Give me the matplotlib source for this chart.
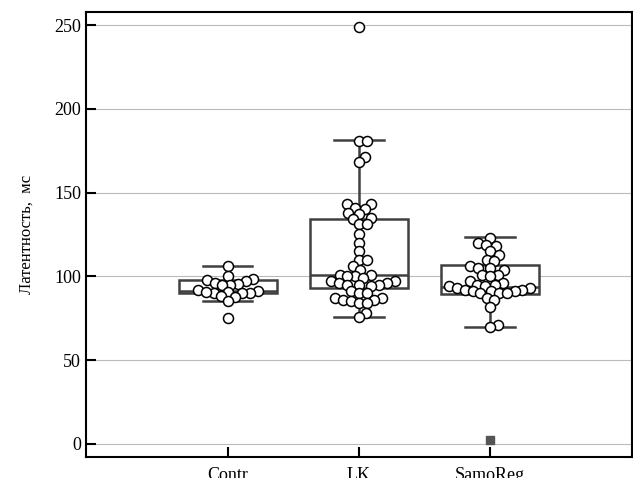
import numpy as np
import matplotlib
matplotlib.use("Agg")
import matplotlib.pyplot as plt

groups = ["Contr", "LK", "SamoReg"]

contr = [106, 100, 98.5, 98, 97.5, 96, 95.5, 95, 95, 92, 91, 90.5, 90, 90,
         90, 90.5, 88, 87.5, 85.5, 75]
lk = [249, 181, 181, 171, 168, 143, 143, 141, 140, 138, 137, 135, 134, 131,
      131, 125, 120, 115, 110, 110, 106, 104, 101, 101, 100, 100, 99, 97, 97,
      96, 96, 95, 95, 95, 94, 91, 90, 90, 87, 87, 86, 86, 85, 84, 84, 78, 76]
samoreg = [123, 120, 119, 118, 115, 113, 110, 109, 106, 105, 105, 104, 101,
           101, 100, 97, 96, 95, 95, 94, 94, 93, 93, 92, 92, 91, 91, 91, 90,
           90, 90, 87, 86, 82, 71, 70]

# box statistics
q1 = [90.3, 93.3, 89.5]
med = [91.3, 100.6, 93.9]
q3 = [97.8, 134.2, 107.0]
whislo = [85.3, 76.0, 70.0]
whishi = [106.2, 181.2, 123.3]
fliers = [[], [], [2.2]]

XLIM = (-1.08, 3.08)
YLIM = (-7.8, 257.8)


def swarm_offsets(vals, ax, gap):
    # simple beeswarm in pixel space, points may overlap a little
    fig = ax.figure
    bb = ax.get_position()
    w_px = bb.width * fig.get_figwidth() * fig.dpi
    h_px = bb.height * fig.get_figheight() * fig.dpi
    sx = w_px / (XLIM[1] - XLIM[0])
    sy = h_px / (YLIM[1] - YLIM[0])
    ys = np.asarray(vals, float) * sy
    order = np.argsort(ys)
    placed = []
    xs = np.zeros(len(ys))
    for i in order:
        y = ys[i]
        cands = [0.0]
        for px, py in placed:
            dy = y - py
            if abs(dy) < gap:
                dx = np.sqrt(gap ** 2 - dy ** 2)
                cands += [px + dx, px - dx]
        cands.sort(key=abs)
        for c in cands:
            if all((c - px) ** 2 + (y - py) ** 2 >= gap ** 2 - 1e-6 for px, py in placed):
                xs[i] = c
                break
        placed.append((xs[i], y))
    return xs / sx


plt.rcParams["font.family"] = ["Liberation Serif", "DejaVu Serif"]

fig = plt.figure(figsize=(6.33, 4.78), dpi=100)
ax = fig.add_axes([0.136, 0.044, 0.862, 0.931])

ax.grid(axis="y", color="#bbbbbb", linewidth=0.8, zorder=0)
ax.set_axisbelow(True)

stats = []
for i, g in enumerate(groups):
    stats.append(dict(label=g, q1=q1[i], med=med[i], q3=q3[i],
                      whislo=whislo[i], whishi=whishi[i], fliers=fliers[i]))

box_col = "#404040"
ax.bxp(stats, positions=range(len(groups)), widths=0.75, patch_artist=True,
       boxprops=dict(facecolor="white", edgecolor=box_col, linewidth=1.8),
       medianprops=dict(color=box_col, linewidth=1.8),
       whiskerprops=dict(color=box_col, linewidth=1.8),
       capprops=dict(color=box_col, linewidth=1.8),
       flierprops=dict(marker="s", markerfacecolor="#555555",
                       markeredgecolor="#555555", markersize=6),
       zorder=2)

for i, vals in enumerate([contr, lk, samoreg]):
    off = swarm_offsets(vals, ax, gap=8.0)
    ax.scatter(i + off, vals, s=52, facecolor="white", edgecolor="black",
               linewidth=1.1, zorder=3)

ax.set_xlim(*XLIM)
ax.set_ylim(*YLIM)
ax.set_yticks([0, 50, 100, 150, 200, 250])
ax.set_xticks(range(len(groups)))
ax.set_xticklabels(groups)
ax.set_ylabel("Латентность,  мс", fontsize=12, labelpad=14)

ax.tick_params(direction="in", length=7, width=1.5, labelsize=13, color="black")
ax.tick_params(axis="x", pad=7)
for s in ax.spines.values():
    s.set_linewidth(1.5)
    s.set_color("black")

fig.savefig("out.png", dpi=100)
